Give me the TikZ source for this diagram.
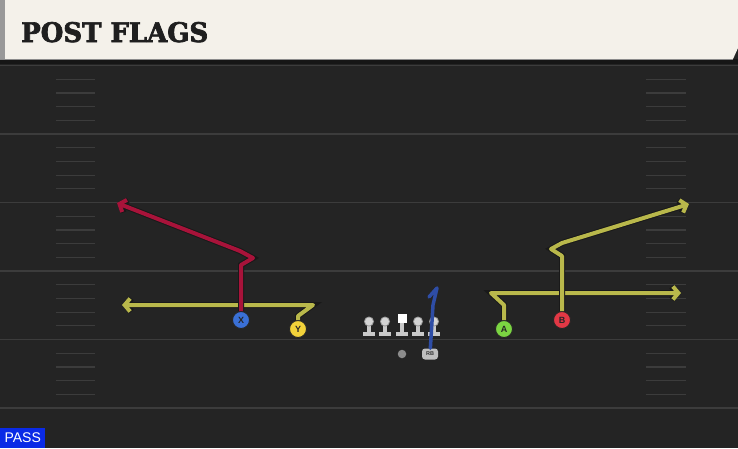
\documentclass[tikz,border=0pt]{standalone}
\usepackage{fontspec}
\setsansfont{Liberation Sans}
\newfontfamily\titlefont{DejaVu Serif Condensed}[BoldFeatures={FakeBold=2.5}]
\usepackage{xcolor}
\usepackage{tikz}
\usetikzlibrary{arrows.meta}

\definecolor{fieldbg}{HTML}{242424}
\definecolor{bandbg}{HTML}{161616}
\definecolor{yardline}{HTML}{3C3C3C}
\definecolor{headbg}{HTML}{F4F1EA}
\definecolor{redroute}{HTML}{A8133A}
\definecolor{yelroute}{HTML}{B9B84B}
\definecolor{blueroute}{HTML}{2E4DA6}
\definecolor{xblue}{HTML}{3A70D6}
\definecolor{yyellow}{HTML}{F2D23A}
\definecolor{agreen}{HTML}{7BD542}
\definecolor{bred}{HTML}{E23845}
\definecolor{passblue}{HTML}{0A2AE6}
\definecolor{linegray}{HTML}{C9C9C9}

\begin{document}
\begin{tikzpicture}[x=1pt, y=-1pt,
    player/.style={circle, draw=black!85, line width=0.9pt, minimum size=17pt, inner sep=0pt,
                   font=\sffamily\bfseries\fontsize{9}{9}\selectfont, text=black!85},
    route/.style={line width=4pt, line join=round, -{Straight Barb[length=5.5pt,width=13pt]},
                  preaction={draw=black!90, line width=6pt}},
    hash/.style={draw=yardline, line width=1.2pt}]

    \useasboundingbox (0,0) rectangle (738,448);
    % field
    \fill[fieldbg] (0,0) rectangle (738,448);
    \fill[bandbg] (0,59) rectangle (738,64);
    \foreach \k in {0,...,5}
        \draw[yardline, line width=1.8pt] (0,65.5+68.5*\k) -- (738,65.5+68.5*\k);
    \foreach \k in {0,...,4}
        \foreach \j in {1,...,4} {
            \draw[hash] (56,65.5+68.5*\k+13.7*\j) -- (95,65.5+68.5*\k+13.7*\j);
            \draw[hash] (646,65.5+68.5*\k+13.7*\j) -- (686,65.5+68.5*\k+13.7*\j);
        }

    % header
    \fill[headbg] (0,0) -- (738,0) -- (738,48) -- (733,59) -- (0,59) -- cycle;
    \fill[black!40] (0,0) rectangle (5,59);
    \draw[black!45, line width=0.8pt] (0,59) -- (733,59);
    \node[anchor=base west, inner sep=0pt, text=black!88](title) at (21,42)
        {\resizebox{187pt}{20pt}{\titlefont\bfseries POST FLAGS}};

    % line
    \foreach \x in {369,385,418,434} {
        \fill[linegray] (\x-6,331.5) rectangle (\x+6,335.5);
        \fill[linegray] (\x-1.8,324) rectangle (\x+1.8,332);
        \fill[black!40] (\x,321.5) circle (5pt);
        \fill[black!17] (\x,321.5) circle (4pt);
    }
    \fill[linegray] (396,331.5) rectangle (408,335.5);
    \fill[linegray] (400.2,322) rectangle (403.8,332);
    \fill[white] (397.5,313.5) rectangle (406.5,322.5);
    \node[circle, fill=black!45, minimum size=8.5pt, inner sep=0pt](qb) at (402,354){};

    % players
    \node[player, fill=xblue](X) at (241,320){X};
    \node[player, fill=yyellow](Y) at (298,329){Y};
    \node[player, fill=agreen](A) at (504,329){A};
    \node[player, fill=bred](B) at (562,320){B};
    \node[rounded corners=3pt, fill=black!25, minimum width=16pt, minimum height=11pt, inner sep=0pt,
          font=\sffamily\bfseries\fontsize{5.5}{5.5}\selectfont, text=black!80](RB) at (430,354){RB};

    % route points
    \coordinate (x1) at (241,265);
    \coordinate (x2) at (253,258);
    \coordinate (x3) at (240,251);
    \coordinate (xend) at (117,203);
    \coordinate (y1) at (298,316);
    \coordinate (y2) at (313,305);
    \coordinate (yend) at (122,305);
    \coordinate (a1) at (504,305);
    \coordinate (a2) at (491,293);
    \coordinate (aend) at (681,293);
    \coordinate (b1) at (562,256);
    \coordinate (b2) at (551,249);
    \coordinate (b3) at (562,243);
    \coordinate (bend) at (689,204);
    \coordinate (rb1) at (433,305);
    \coordinate (rb2) at (437,288);
    \coordinate (rb3) at (429,297);

    % routes
    \draw[route, yelroute] (Y) -- (y1) -- (y2) -- (yend);
    \draw[route, redroute] (X) -- (x1) -- (x2) -- (x3) -- (xend);
    \draw[route, yelroute] (A) -- (a1) -- (a2) -- (aend);
    \draw[route, yelroute] (B) -- (b1) -- (b2) -- (b3) -- (bend);
    \draw[blueroute, line width=3.5pt, line cap=round, line join=round] (RB) -- (rb1) -- (rb2) -- (rb3);

    % play type
    \node[anchor=south west, fill=passblue, text=white, minimum width=45pt, minimum height=20pt,
          inner sep=0pt, font=\sffamily\fontsize{14}{14}\selectfont](pass) at (0,448){PASS};
\end{tikzpicture}
\end{document}
